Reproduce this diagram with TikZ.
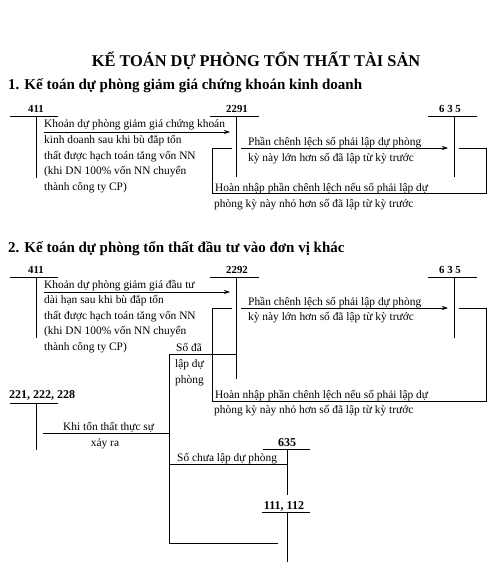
\documentclass[tikz,border=0pt]{standalone}
\usepackage{fontspec}
\setmainfont{Liberation Serif}
\usetikzlibrary{arrows.meta}
\begin{document}
\begin{tikzpicture}[x=1pt,y=-1pt,
  ln/.style={line width=0.75pt},
  arr/.style={line width=0.75pt,-{Stealth[length=6pt,width=4pt]}},
  txt/.style={anchor=base west,inner sep=0pt,font=\fontsize{11.4}{14}\selectfont},
  acc/.style={anchor=base,inner sep=0pt,font=\fontsize{10.8}{12}\selectfont\bfseries},
  accb/.style={anchor=base,inner sep=0pt,font=\fontsize{12}{14}\selectfont\bfseries},
  head/.style={anchor=base west,inner sep=0pt,font=\fontsize{15}{17}\selectfont\bfseries}]
\useasboundingbox[fill=white] (0,0) rectangle (500,572);

% Title and headings
\node[anchor=base,inner sep=0pt,font=\fontsize{16.4}{18}\selectfont\bfseries] (title) at (256,67) {KẾ TOÁN DỰ PHÒNG TỔN THẤT TÀI SẢN};
\node[head] (h1) at (8,90) {1. Kế toán dự phòng giảm giá chứng khoán kinh doanh};
\node[head] (h2) at (8,252) {2. Kế toán dự phòng tổn thất đầu tư vào đơn vị khác};

% ---------- Section 1 ----------
% accounts
\node[acc] (s1a411) at (36,113) {411};
\coordinate (s1a411l) at (10,116); \coordinate (s1a411r) at (58,116);
\coordinate (s1a411t) at (36,116); \coordinate (s1a411b) at (36,178);
\draw[ln] (s1a411l) -- (s1a411r); \draw[ln] (s1a411t) -- (s1a411b);

\node[acc] (s1a2291) at (237,113) {2291};
\coordinate (s1a2291l) at (210,116); \coordinate (s1a2291r) at (259,116);
\coordinate (s1a2291t) at (236,116); \coordinate (s1a2291b) at (236,177);
\draw[ln] (s1a2291l) -- (s1a2291r); \draw[ln] (s1a2291t) -- (s1a2291b);

\node[acc] (s1a635) at (450,113) {6 3 5};
\coordinate (s1a635l) at (428,116); \coordinate (s1a635r) at (477,116);
\coordinate (s1a635t) at (454,116); \coordinate (s1a635b) at (454,177);
\draw[ln] (s1a635l) -- (s1a635r); \draw[ln] (s1a635t) -- (s1a635b);

% arrow 1
\coordinate (s1p1s) at (44,132); \coordinate (s1p1e) at (230,132);
\draw[arr] (s1p1s) -- (s1p1e);
\node[txt] (s1t1) at (44,128) {Khoản dự phòng giảm giá chứng khoán};
\node[txt] (s1t2) at (44,144) {kinh doanh sau khi bù đắp tổn};
\node[txt] (s1t3) at (44,159.5) {thất được hạch toán tăng vốn NN};
\node[txt] (s1t4) at (44,175) {(khi DN 100\% vốn NN chuyển};
\node[txt] (s1t5) at (44,190.5) {thành công ty CP)};

% arrow 2
\coordinate (s1p2s) at (241,148); \coordinate (s1p2e) at (448,148);
\draw[arr] (s1p2s) -- (s1p2e);
\node[txt] (s1u1) at (248,146) {Phần chênh lệch số phải lập dự phòng};
\node[txt] (s1u2) at (248,161) {kỳ này lớn hơn số đã lập từ kỳ trước};

% return loop
\coordinate (s1r1) at (459,148); \coordinate (s1r2) at (486,148);
\coordinate (s1r3) at (486,193); \coordinate (s1r4) at (212,193);
\coordinate (s1r5) at (212,148); \coordinate (s1r6) at (232,148);
\draw[ln] (s1r1) -- (s1r2) -- (s1r3) -- (s1r4) -- (s1r5) -- (s1r6);
\node[txt] (s1v1) at (215,191) {Hoàn nhập phần chênh lệch nếu số phải lập dự};
\node[txt] (s1v2) at (214,207) {phòng kỳ này nhỏ hơn số đã lập từ kỳ trước};

% ---------- Section 2 ----------
\node[acc] (s2a411) at (36,273) {411};
\coordinate (s2a411l) at (10,277); \coordinate (s2a411r) at (58,277);
\coordinate (s2a411t) at (36,277); \coordinate (s2a411b) at (36,338);
\draw[ln] (s2a411l) -- (s2a411r); \draw[ln] (s2a411t) -- (s2a411b);

\node[acc] (s2a2292) at (237,273) {2292};
\coordinate (s2a2292l) at (210,277); \coordinate (s2a2292r) at (259,277);
\coordinate (s2a2292t) at (236,277); \coordinate (s2a2292b) at (236,379);
\draw[ln] (s2a2292l) -- (s2a2292r); \draw[ln] (s2a2292t) -- (s2a2292b);

\node[acc] (s2a635) at (450,273) {6 3 5};
\coordinate (s2a635l) at (428,277); \coordinate (s2a635r) at (477,277);
\coordinate (s2a635t) at (454,277); \coordinate (s2a635b) at (454,338);
\draw[ln] (s2a635l) -- (s2a635r); \draw[ln] (s2a635t) -- (s2a635b);

% arrow 1
\coordinate (s2p1s) at (44,292); \coordinate (s2p1e) at (230,292);
\draw[arr] (s2p1s) -- (s2p1e);
\node[txt] (s2t1) at (44,288) {Khoản dự phòng giảm giá đầu tư};
\node[txt] (s2t2) at (44,303.5) {dài hạn sau khi bù đắp tổn};
\node[txt] (s2t3) at (44,319) {thất được hạch toán tăng vốn NN};
\node[txt] (s2t4) at (44,334.5) {(khi DN 100\% vốn NN chuyển};
\node[txt] (s2t5) at (44,350.5) {thành công ty CP)};

% Số đã lập dự phòng
\node[txt] (s2d1) at (176,351) {Số đã};
\node[txt] (s2d2) at (175,367.5) {lập dự};
\node[txt] (s2d3) at (175,383) {phòng};
\coordinate (s2dl) at (169,354); \coordinate (s2dr) at (237,354);
\draw[ln] (s2dl) -- (s2dr);

% arrow 2
\coordinate (s2p2s) at (241,308); \coordinate (s2p2e) at (448,308);
\draw[arr] (s2p2s) -- (s2p2e);
\node[txt] (s2u1) at (248,305.5) {Phần chênh lệch số phải lập dự phòng};
\node[txt] (s2u2) at (248,320) {kỳ này lớn hơn số đã lập từ kỳ trước};

% return loop
\coordinate (s2r1) at (459,308); \coordinate (s2r2) at (486,308);
\coordinate (s2r3) at (486,401); \coordinate (s2r4) at (212,401);
\coordinate (s2r5) at (212,308); \coordinate (s2r6) at (232,308);
\draw[ln] (s2r1) -- (s2r2) -- (s2r3) -- (s2r4) -- (s2r5) -- (s2r6);
\node[txt] (s2v1) at (215,398) {Hoàn nhập phần chênh lệch nếu số phải lập dự};
\node[txt] (s2v2) at (214,413.5) {phòng kỳ này nhỏ hơn số đã lập từ kỳ trước};

% 221, 222, 228
\node[anchor=base west,inner sep=0pt,font=\fontsize{12}{14}\selectfont\bfseries] (s2a221) at (9,398) {221, 222, 228};
\coordinate (s2a221l) at (10,403); \coordinate (s2a221r) at (58,403);
\coordinate (s2a221t) at (36,403); \coordinate (s2a221b) at (36,450);
\draw[ln] (s2a221l) -- (s2a221r); \draw[ln] (s2a221t) -- (s2a221b);

\node[txt] (s2k1) at (63,430) {Khi tổn thất thực sự};
\node[anchor=base,inner sep=0pt,font=\fontsize{11.4}{14}\selectfont] (s2k2) at (105,446) {xảy ra};
\coordinate (s2kl) at (43,433); \coordinate (s2kr) at (169,433);
\draw[ln] (s2kl) -- (s2kr);

% main vertical
\coordinate (s2vt) at (169,354); \coordinate (s2vb) at (169,543);
\draw[ln] (s2vt) -- (s2vb);

% Số chưa lập dự phòng -> 635
\node[txt] (s2c1) at (177,461) {Số chưa lập dự phòng};
\coordinate (s2cl) at (169,464); \coordinate (s2cr) at (287,464);
\draw[ln] (s2cl) -- (s2cr);

\node[accb] (s2b635) at (287,446) {635};
\coordinate (s2b635l) at (263,449); \coordinate (s2b635r) at (310,449);
\coordinate (s2b635t) at (287,449); \coordinate (s2b635b) at (287,495);
\draw[ln] (s2b635l) -- (s2b635r); \draw[ln] (s2b635t) -- (s2b635b);

\node[accb] (s2a111) at (284,509) {111, 112};
\coordinate (s2a111l) at (262,512); \coordinate (s2a111r) at (310,512);
\coordinate (s2a111t) at (287,512); \coordinate (s2a111b) at (287,562);
\draw[ln] (s2a111l) -- (s2a111r); \draw[ln] (s2a111t) -- (s2a111b);

% bottom line to 111,112
\coordinate (s2bl) at (169,543); \coordinate (s2br) at (278,543);
\draw[ln] (s2bl) -- (s2br);
\end{tikzpicture}
\end{document}
